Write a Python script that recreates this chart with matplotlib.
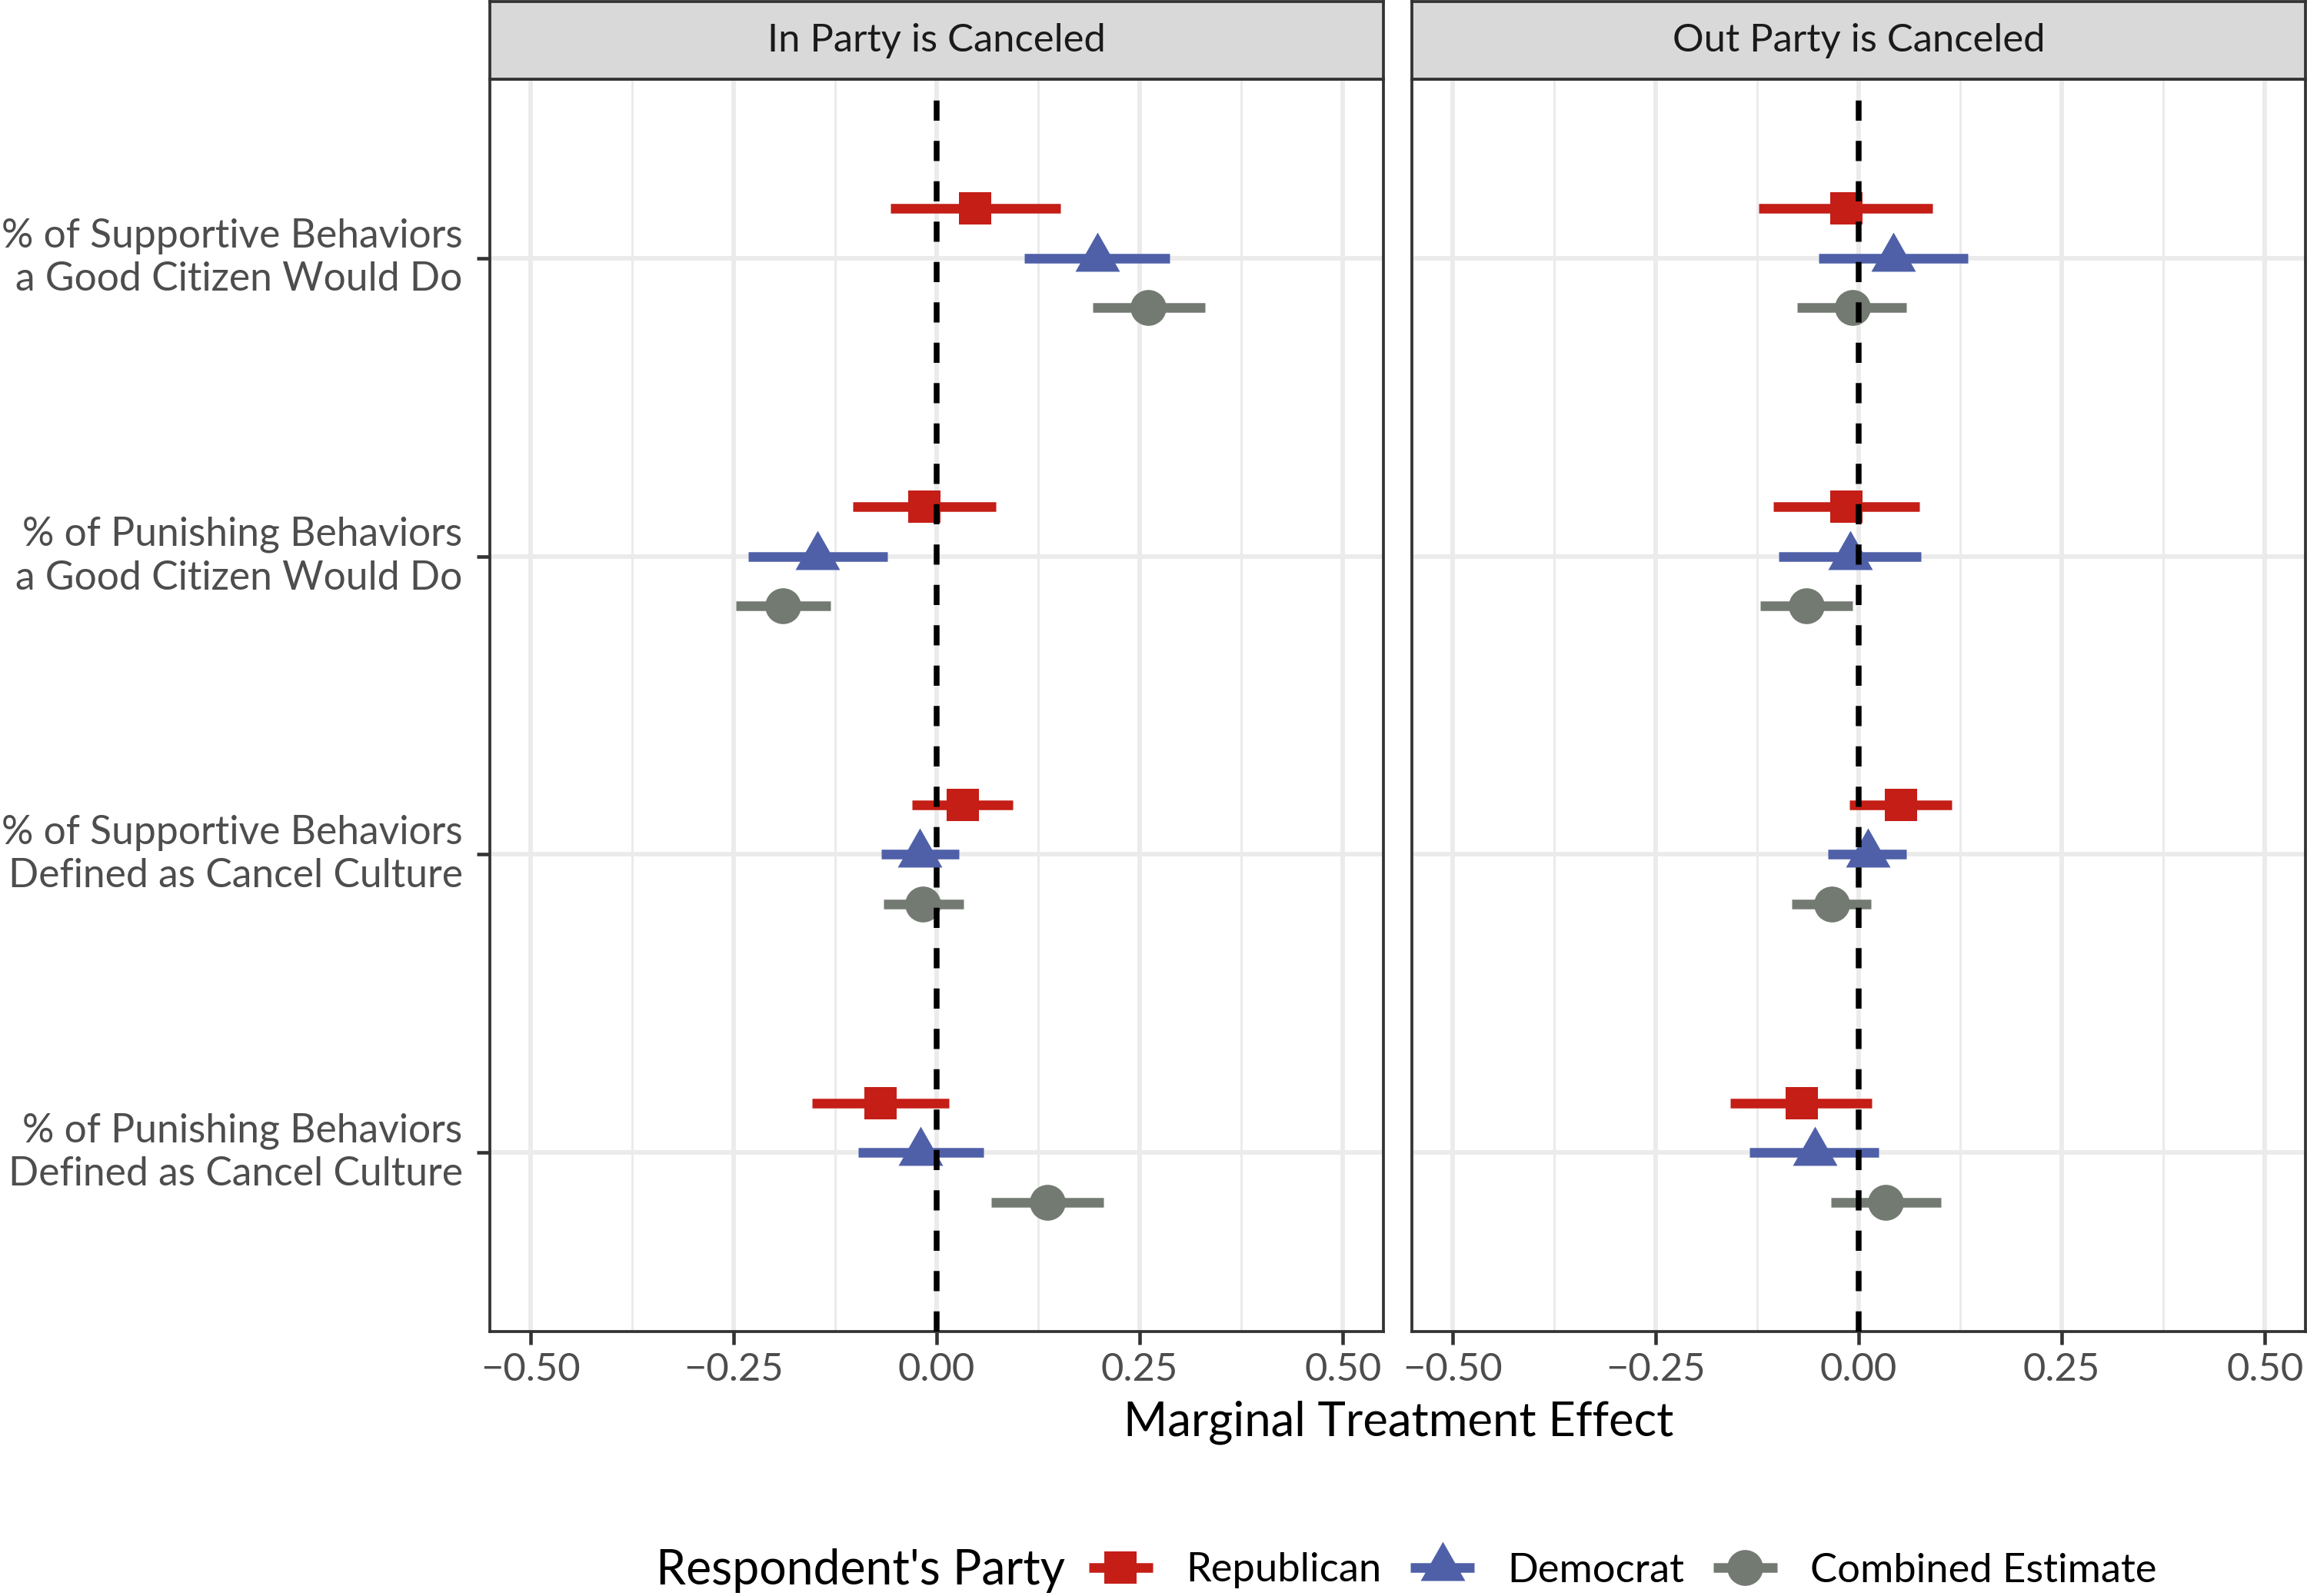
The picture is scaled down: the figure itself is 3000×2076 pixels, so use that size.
import numpy as np
import matplotlib
matplotlib.use("Agg")
import matplotlib.pyplot as plt
from matplotlib.lines import Line2D
from matplotlib.ticker import FuncFormatter

plt.rcParams['font.family'] = ['Lato', 'DejaVu Sans']

# categories, top to bottom
categories = ["% of Supportive Behaviors\na Good Citizen Would Do",
              "% of Punishing Behaviors\na Good Citizen Would Do",
              "% of Supportive Behaviors\nDefined as Cancel Culture",
              "% of Punishing Behaviors\nDefined as Cancel Culture"]
facets = ["In Party is Canceled", "Out Party is Canceled"]
parties = ["Republican", "Democrat", "Combined Estimate"]

# In Party is Canceled
in_rep_est = [0.047, -0.015, 0.032, -0.069]
in_rep_lo = [-0.057, -0.103, -0.030, -0.153]
in_rep_hi = [0.152, 0.073, 0.094, 0.015]
in_dem_est = [0.198, -0.147, -0.021, -0.020]
in_dem_lo = [0.108, -0.232, -0.068, -0.097]
in_dem_hi = [0.287, -0.061, 0.027, 0.058]
in_comb_est = [0.260, -0.189, -0.017, 0.136]
in_comb_lo = [0.192, -0.247, -0.065, 0.067]
in_comb_hi = [0.330, -0.131, 0.033, 0.205]

# Out Party is Canceled
out_rep_est = [-0.015, -0.015, 0.052, -0.070]
out_rep_lo = [-0.123, -0.105, -0.011, -0.158]
out_rep_hi = [0.091, 0.075, 0.115, 0.016]
out_dem_est = [0.043, -0.010, 0.011, -0.054]
out_dem_lo = [-0.049, -0.098, -0.038, -0.134]
out_dem_hi = [0.134, 0.077, 0.059, 0.025]
out_comb_est = [-0.008, -0.064, -0.033, 0.033]
out_comb_lo = [-0.076, -0.121, -0.082, -0.034]
out_comb_hi = [0.059, -0.008, 0.015, 0.101]

xticks = [-0.5, -0.25, 0.0, 0.25, 0.5]
xminor = [-0.375, -0.125, 0.125, 0.375]

colors = ["#C41E17", "#4F60A8", "#737A72"]
tri = [(0, 34), (-29, -17), (29, -17)]
markers = ["s", tri, "o"]
msizes = [10.3, 16.3, 11.2]
offsets = [1 / 6, 0.0, -1 / 6]

panel_data = [
    [(in_rep_est, in_rep_lo, in_rep_hi), (in_dem_est, in_dem_lo, in_dem_hi),
     (in_comb_est, in_comb_lo, in_comb_hi)],
    [(out_rep_est, out_rep_lo, out_rep_hi), (out_dem_est, out_dem_lo, out_dem_hi),
     (out_comb_est, out_comb_lo, out_comb_hi)],
]

fig = plt.figure(figsize=(10, 6.92), dpi=300)

W, H = 3000, 2076
lefts = [637 / W, 1836 / W]
pw = 1162 / W
pb = 1 - 1732 / H
pt = 1 - 103 / H
st = 1 - 2 / H

ypos = np.arange(len(categories), 0, -1)
fmt = FuncFormatter(lambda v, p: f"{v:.2f}".replace("-", "\u2212"))

for i, ax_left in enumerate(lefts):
    ax = fig.add_axes([ax_left, pb, pw, pt - pb])
    ax.set_xlim(-0.55, 0.55)
    ax.set_ylim(0.4, len(categories) + 0.6)
    ax.set_xticks(xticks)
    ax.set_xticks(xminor, minor=True)
    ax.xaxis.set_major_formatter(fmt)
    ax.set_yticks(ypos)
    ax.grid(which="major", color="#EBEBEB", lw=1.4, zorder=0)
    ax.grid(which="minor", axis="x", color="#EBEBEB", lw=0.7, zorder=0)
    ax.set_axisbelow(True)
    for sp in ax.spines.values():
        sp.set_color("#333333")
        sp.set_linewidth(0.9)
    ax.tick_params(axis="both", which="major", length=4, width=1.1, color="#333333",
                   labelcolor="#4D4D4D", labelsize=12.2)
    ax.tick_params(axis="x", which="major", pad=2.5)
    ax.tick_params(axis="x", which="minor", length=0)
    if i == 0:
        ax.set_yticklabels(categories, linespacing=1.25)
        ax.tick_params(axis="y", pad=4.5, labelsize=12.4)
        for lab in ax.get_yticklabels():
            lab.set_verticalalignment("center")
    else:
        ax.tick_params(axis="y", left=False, labelleft=False)

    for j, (est, lo, hi) in enumerate(panel_data[i]):
        y = ypos + offsets[j]
        ax.hlines(y, lo, hi, color=colors[j], lw=3, capstyle="butt", zorder=2)
        ax.plot(est, y, linestyle="none", marker=markers[j], ms=msizes[j],
                color=colors[j], markeredgewidth=0, zorder=3)

    ax.axvline(0, color="black", lw=1.8, dashes=(3.5, 3.5), zorder=4)

    # facet strip
    sax = fig.add_axes([ax_left, pt, pw, st - pt])
    sax.set_facecolor("#D9D9D9")
    sax.set_xticks([])
    sax.set_yticks([])
    for sp in sax.spines.values():
        sp.set_color("#333333")
        sp.set_linewidth(0.9)
    sax.text(0.5, 0.5, facets[i], ha="center", va="center", fontsize=12.2,
             color="#1A1A1A", transform=sax.transAxes)

fig.text(1819 / W, 1 - 1850 / H, "Marginal Treatment Effect", ha="center",
         va="center", fontsize=14.8, color="black")

# legend
fig.text(853 / W, 1 - 2043 / H, "Respondent's Party", ha="left", va="center",
         fontsize=15.0, color="black")
handles = [Line2D([], [], color=colors[j], marker=markers[j], ms=msizes[j],
                  lw=3, markeredgewidth=0, solid_capstyle="butt")
           for j in range(3)]
fig.legend(handles, parties, loc="center left", bbox_to_anchor=(1416 / W, 1 - 2043 / H),
           ncol=3, frameon=False, fontsize=12.6, handlelength=1.58, handletextpad=0.82,
           columnspacing=0.72, borderpad=0, borderaxespad=0)

fig.savefig("out.png", dpi=300)
